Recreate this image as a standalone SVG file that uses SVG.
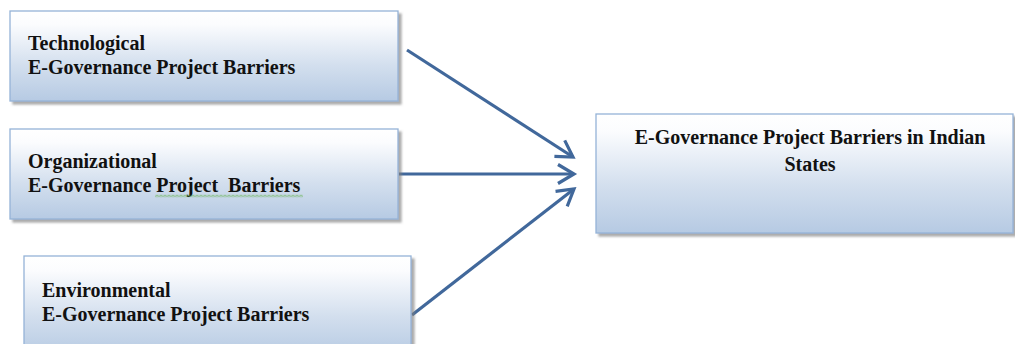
<svg xmlns="http://www.w3.org/2000/svg" width="1015" height="344" viewBox="0 0 1015 344">
  <style>
    .box { fill: url(#boxGrad); stroke: #95b3d7; stroke-width: 1.3; filter: url(#shadow); }
    .lbl { font-family: "Liberation Serif", "Times New Roman", serif; font-weight: bold; font-size: 20px; fill: #111111; }
    .conn { fill: none; stroke: #41689b; stroke-width: 3.2; }
  </style>
  <defs>
    <linearGradient id="boxGrad" x1="0" y1="0" x2="0" y2="1">
      <stop offset="0" stop-color="#ffffff"/>
      <stop offset="0.15" stop-color="#fbfcfe"/>
      <stop offset="0.6" stop-color="#d3dfee"/>
      <stop offset="1" stop-color="#b6cae3"/>
    </linearGradient>
    <filter id="shadow" x="-5%" y="-5%" width="115%" height="125%">
      <feDropShadow dx="3" dy="3" stdDeviation="1" flood-color="#7f7f7f" flood-opacity="0.65"/>
    </filter>
    <marker id="arrow" markerUnits="userSpaceOnUse" markerWidth="24" markerHeight="24" viewBox="-20 -12 24 24" refX="0" refY="0" orient="auto">
      <path d="M -16 -9.5 L 0 0 L -16 9.5" fill="none" stroke="#41689b" stroke-width="3.2" stroke-linejoin="miter"/>
    </marker>
    <pattern id="squiggle" patternUnits="userSpaceOnUse" x="155" y="194.5" width="4" height="3">
      <path d="M0 2.5 L2 0.5 L4 2.5" fill="none" stroke="#5cb03f" stroke-width="1"/>
    </pattern>
  </defs>

  <rect width="1015" height="344" fill="#ffffff"/>

  <g id="connectors">
    <line class="conn" x1="407" y1="50" x2="573" y2="157" marker-end="url(#arrow)"/>
    <line class="conn" x1="399" y1="174" x2="574" y2="174" marker-end="url(#arrow)"/>
    <line class="conn" x1="412" y1="315" x2="574" y2="189" marker-end="url(#arrow)"/>
  </g>

  <g id="node-technological">
    <rect class="box" x="10" y="11" width="388" height="90"/>
    <text class="lbl" x="28" y="50">Technological</text>
    <text class="lbl" x="28" y="74">E-Governance Project Barriers</text>
  </g>

  <g id="node-organizational">
    <rect class="box" x="10" y="129" width="388" height="90"/>
    <text class="lbl" x="28" y="168">Organizational</text>
    <text class="lbl" x="28" y="192" xml:space="preserve" style="white-space:pre">E-Governance Project  Barriers</text>
    <rect x="155" y="194.5" width="148" height="3" fill="url(#squiggle)"/>
  </g>

  <g id="node-environmental">
    <rect class="box" x="24" y="256" width="387" height="100"/>
    <text class="lbl" x="42" y="297">Environmental</text>
    <text class="lbl" x="42" y="321">E-Governance Project Barriers</text>
  </g>

  <g id="node-target">
    <rect class="box" x="596" y="114" width="417" height="119"/>
    <text class="lbl" x="810" y="144" text-anchor="middle">E-Governance Project Barriers in Indian</text>
    <text class="lbl" x="810" y="171" text-anchor="middle">States</text>
  </g>
</svg>
